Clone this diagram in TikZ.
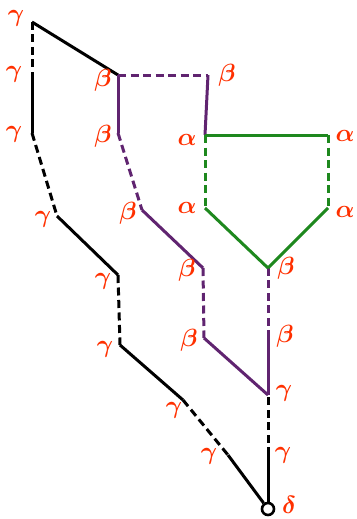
\documentclass[tikz,border=0pt]{standalone}
\usepackage{amsmath}
\usepackage{amssymb}
\usepackage{xcolor}
\usepackage{tikz}
\usetikzlibrary{positioning}

\definecolor{lblred}{RGB}{255,48,0}
\definecolor{chainpurple}{RGB}{96,36,112}
\definecolor{chaingreen}{RGB}{30,136,30}

\begin{document}
\begin{tikzpicture}[
    x=1pt, y=-1pt,
    lbl/.style={text=lblred, font=\fontsize{24}{26}\selectfont, inner sep=0pt},
    solidline/.style={line width=3pt},
    dashline/.style={line width=3pt, dash pattern=on 8pt off 4.5pt},
    blk/.style={black},
    prp/.style={chainpurple},
    grn/.style={chaingreen},
    root/.style={circle, draw, line width=2.6pt, minimum size=12pt, inner sep=0pt, fill=white}
]
\useasboundingbox (0,0) rectangle (356,519);

% Points of the outer chain
\coordinate (g1) at (32,22);
\coordinate (g2) at (32,75);
\coordinate (g3) at (32,133);
\coordinate (g4) at (57,216);
\coordinate (g5) at (118,275);
\coordinate (g6) at (120,345);
\coordinate (g7) at (183,400);
\coordinate (g8) at (228,455);
\coordinate (gr1) at (268,395);
\coordinate (gr2) at (268,455);

% Points of the middle chain
\coordinate (b1) at (118,75);
\coordinate (b2) at (208,75);
\coordinate (b3) at (118,133);
\coordinate (b4) at (142,210);
\coordinate (b5) at (203,268);
\coordinate (b6) at (204,338);
\coordinate (b7) at (268,338);
\coordinate (b8) at (268,268);

% Points of the inner ring
\coordinate (a1) at (205,135);
\coordinate (a2) at (328,135);
\coordinate (a3) at (205,208);
\coordinate (a4) at (328,208);

% Root
\node[root] (d) at (268,509) {};

% Outer chain
\draw[blk, dashline] (g1) -- (g2);
\draw[blk, solidline] (g2) -- (g3);
\draw[blk, dashline] (g3) -- (g4);
\draw[blk, solidline] (g4) -- (g5);
\draw[blk, dashline] (g5) -- (g6);
\draw[blk, solidline] (g6) -- (g7);
\draw[blk, dashline] (g7) -- (g8);
\draw[blk, solidline] (g8) -- (d);
\draw[blk, solidline] (d) -- (gr2);
\draw[blk, dashline] (gr2) -- (gr1);
\draw[blk, solidline] (g1) -- (b1);

% Middle chain
\draw[prp, dashline] (b1) -- (b2);
\draw[prp, solidline] (b2) -- (a1);
\draw[prp, solidline] (b1) -- (b3);
\draw[prp, dashline] (b3) -- (b4);
\draw[prp, solidline] (b4) -- (b5);
\draw[prp, dashline] (b5) -- (b6);
\draw[prp, solidline] (b6) -- (gr1);
\draw[prp, solidline] (gr1) -- (b7);
\draw[prp, dashline] (b7) -- (b8);

% Inner ring
\draw[grn, solidline] (a1) -- (a2);
\draw[grn, dashline] (a1) -- (a3);
\draw[grn, dashline] (a2) -- (a4);
\draw[grn, solidline] (a3) -- (b8);
\draw[grn, solidline] (a4) -- (b8);

% Labels
\node[lbl] (lg1) at (16,18) {$\boldsymbol{\gamma}$};
\node[lbl] (lg2) at (14,74) {$\boldsymbol{\gamma}$};
\node[lbl] (lg3) at (14,134) {$\boldsymbol{\gamma}$};
\node[lbl] (lg4) at (43,219) {$\boldsymbol{\gamma}$};
\node[lbl] (lg5) at (103,281) {$\boldsymbol{\gamma}$};
\node[lbl] (lg6) at (105,349) {$\boldsymbol{\gamma}$};
\node[lbl] (lg7) at (174,410) {$\boldsymbol{\gamma}$};
\node[lbl] (lg8) at (209,456) {$\boldsymbol{\gamma}$};
\node[lbl] (lgr1) at (284,393) {$\boldsymbol{\gamma}$};
\node[lbl] (lgr2) at (283,455) {$\boldsymbol{\gamma}$};
\node[lbl] (lb1) at (103,80) {$\boldsymbol{\beta}$};
\node[lbl] (lb2) at (227,75) {$\boldsymbol{\beta}$};
\node[lbl] (lb3) at (103,136) {$\boldsymbol{\beta}$};
\node[lbl] (lb4) at (128,213) {$\boldsymbol{\beta}$};
\node[lbl] (lb5) at (187,270) {$\boldsymbol{\beta}$};
\node[lbl] (lb6) at (189,340) {$\boldsymbol{\beta}$};
\node[lbl] (lb7) at (285,336) {$\boldsymbol{\beta}$};
\node[lbl] (lb8) at (286,268) {$\boldsymbol{\beta}$};
\node[lbl] (la1) at (187,140) {$\boldsymbol{\alpha}$};
\node[lbl] (la2) at (345,136) {$\boldsymbol{\alpha}$};
\node[lbl] (la3) at (187,208) {$\boldsymbol{\alpha}$};
\node[lbl] (la4) at (345,212) {$\boldsymbol{\alpha}$};
\node[lbl] (ld) at (289,505) {$\boldsymbol{\delta}$};

\end{tikzpicture}
\end{document}
